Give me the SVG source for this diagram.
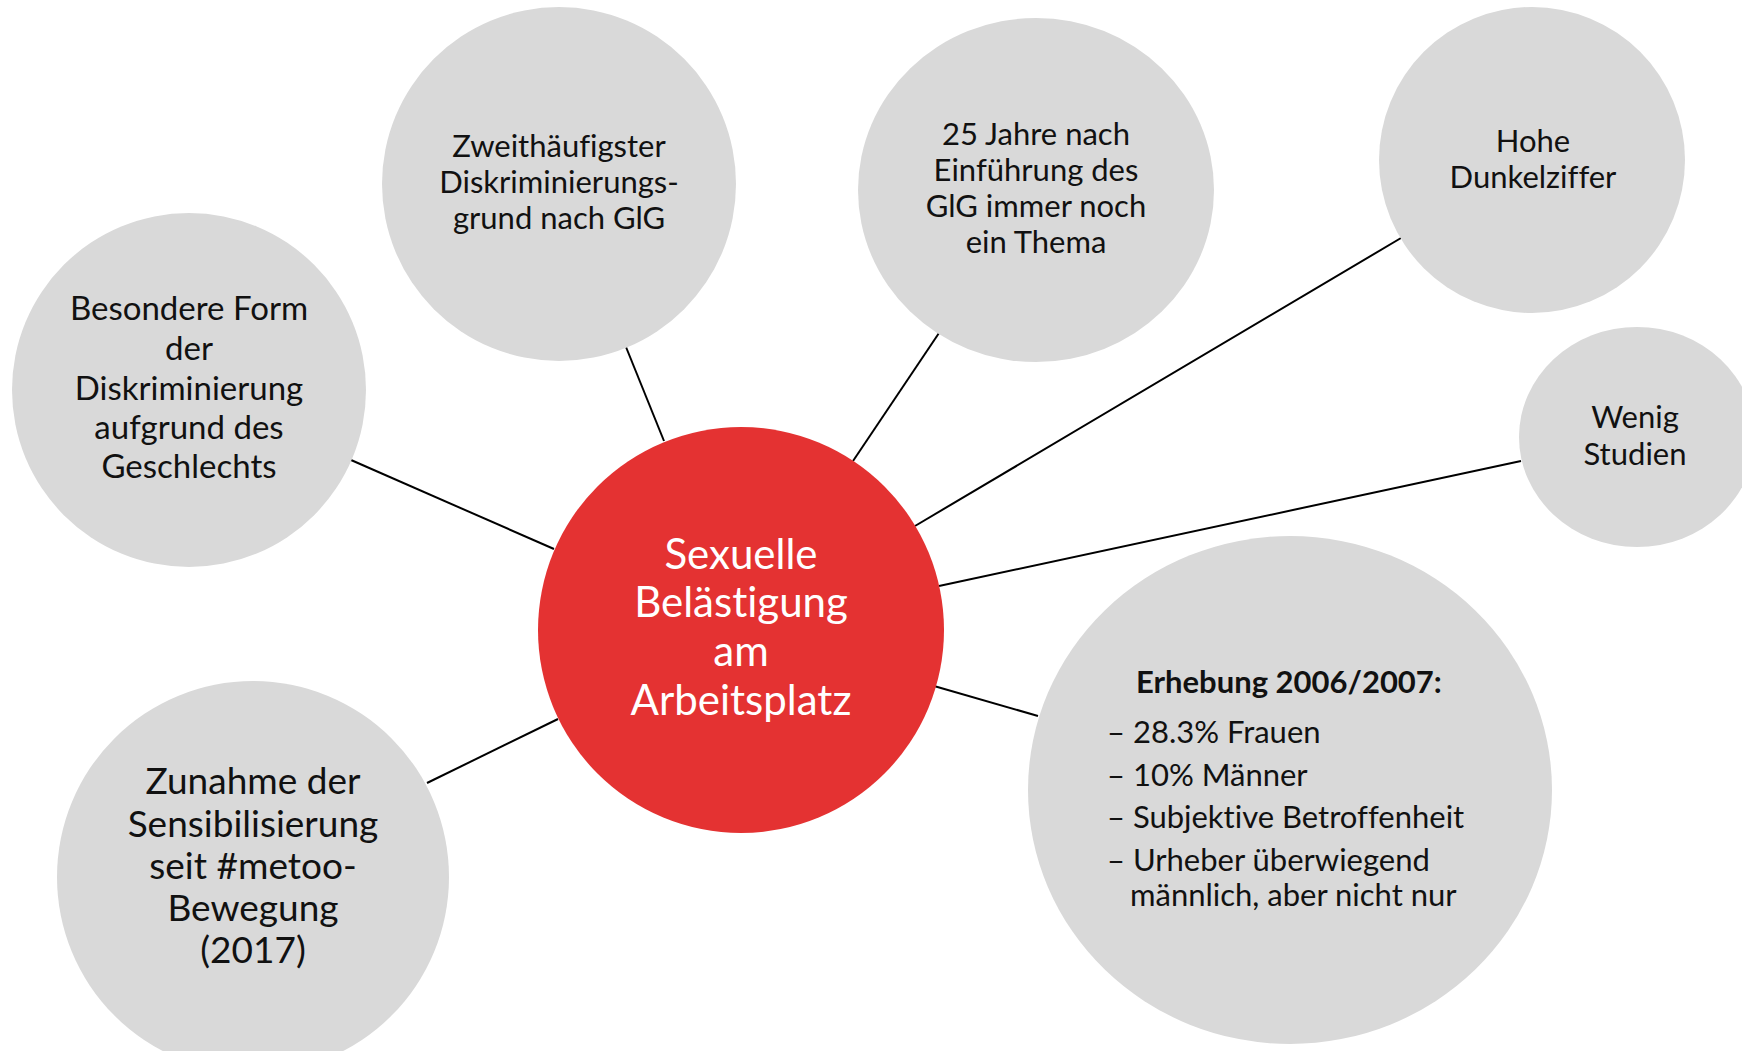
<svg xmlns="http://www.w3.org/2000/svg" width="1742" height="1051" viewBox="0 0 1742 1051">
  <style>
    .bubble { fill: #d9d9d9; }
    .hub { fill: #e43232; }
    .link { stroke: #000000; stroke-width: 2; fill: none; }
    text { font-family: Lato, "Open Sans", "Liberation Sans", sans-serif; text-anchor: middle; fill: #111111; font-variant-ligatures: none; font-feature-settings: "liga" 0, "dlig" 0, "clig" 0; }
    .hub-label { fill: #ffffff; font-size: 42px; }
    .sm { font-size: 31px; }
    .md { font-size: 33px; }
    .lg { font-size: 37px; }
    .list { text-anchor: start; font-size: 31px; }
    .list-head { text-anchor: start; font-size: 31px; font-weight: bold; }
  </style>
  <rect width="1742" height="1051" fill="#ffffff"/>

  <!-- spokes from the hub to each topic bubble -->
  <g id="connectors">
    <line class="link" x1="351" y1="460" x2="554" y2="549"/>
    <line class="link" x1="626" y1="347" x2="664" y2="441"/>
    <line class="link" x1="939" y1="333" x2="853" y2="461"/>
    <line class="link" x1="1401" y1="238" x2="915" y2="526"/>
    <line class="link" x1="1521" y1="461" x2="939" y2="586"/>
    <line class="link" x1="934" y1="686" x2="1038" y2="716"/>
    <line class="link" x1="427" y1="783" x2="558" y2="719"/>
  </g>

  <!-- multi-line labels keep their tspans adjacent so no trailing space skews centring -->
  <g id="node-besondere-form">
    <circle class="bubble" cx="189" cy="390" r="177"/>
    <text class="md"><tspan x="189" y="320">Besondere Form</tspan><tspan x="189" y="360">der</tspan><tspan x="189" y="400">Diskriminierung</tspan><tspan x="189" y="439">aufgrund des</tspan><tspan x="189" y="478">Geschlechts</tspan></text>
  </g>

  <g id="node-zweithaeufigster">
    <circle class="bubble" cx="559" cy="184" r="177"/>
    <text class="sm"><tspan x="559" y="157">Zweithäufigster</tspan><tspan x="559" y="193">Diskriminierungs-</tspan><tspan x="559" y="229">grund nach GlG</tspan></text>
  </g>

  <g id="node-25-jahre">
    <ellipse class="bubble" cx="1036" cy="190" rx="178" ry="172"/>
    <text class="sm"><tspan x="1036" y="145">25 Jahre nach</tspan><tspan x="1036" y="181">Einführung des</tspan><tspan x="1036" y="217">GlG immer noch</tspan><tspan x="1036" y="253">ein Thema</tspan></text>
  </g>

  <g id="node-dunkelziffer">
    <circle class="bubble" cx="1532" cy="160" r="153"/>
    <text class="sm"><tspan x="1533" y="152">Hohe</tspan><tspan x="1533" y="188">Dunkelziffer</tspan></text>
  </g>

  <g id="node-studien">
    <ellipse class="bubble" cx="1637" cy="437" rx="118" ry="110"/>
    <text class="sm"><tspan x="1635" y="428">Wenig</tspan><tspan x="1635" y="465">Studien</tspan></text>
  </g>

  <g id="node-erhebung">
    <ellipse class="bubble" cx="1290" cy="790" rx="262" ry="254"/>
    <text class="list-head" x="1136" y="693">Erhebung 2006/2007:</text>
    <text class="list"><tspan x="1107" y="743">– 28.3% Frauen</tspan><tspan x="1107" y="786">– 10% Männer</tspan><tspan x="1107" y="828">– Subjektive Betroffenheit</tspan><tspan x="1107" y="871">– Urheber überwiegend</tspan><tspan x="1130" y="906">männlich, aber nicht nur</tspan></text>
  </g>

  <g id="node-metoo">
    <circle class="bubble" cx="253" cy="877" r="196"/>
    <text class="lg"><tspan x="253" y="794">Zunahme der</tspan><tspan x="253" y="837">Sensibilisierung</tspan><tspan x="253" y="879">seit #metoo-</tspan><tspan x="253" y="921">Bewegung</tspan><tspan x="253" y="963">(2017)</tspan></text>
  </g>

  <g id="node-hub">
    <circle class="hub" cx="741" cy="630" r="203"/>
    <text class="hub-label"><tspan x="741" y="569">Sexuelle</tspan><tspan x="741" y="617">Belästigung</tspan><tspan x="741" y="666">am</tspan><tspan x="741" y="715">Arbeitsplatz</tspan></text>
  </g>
</svg>
